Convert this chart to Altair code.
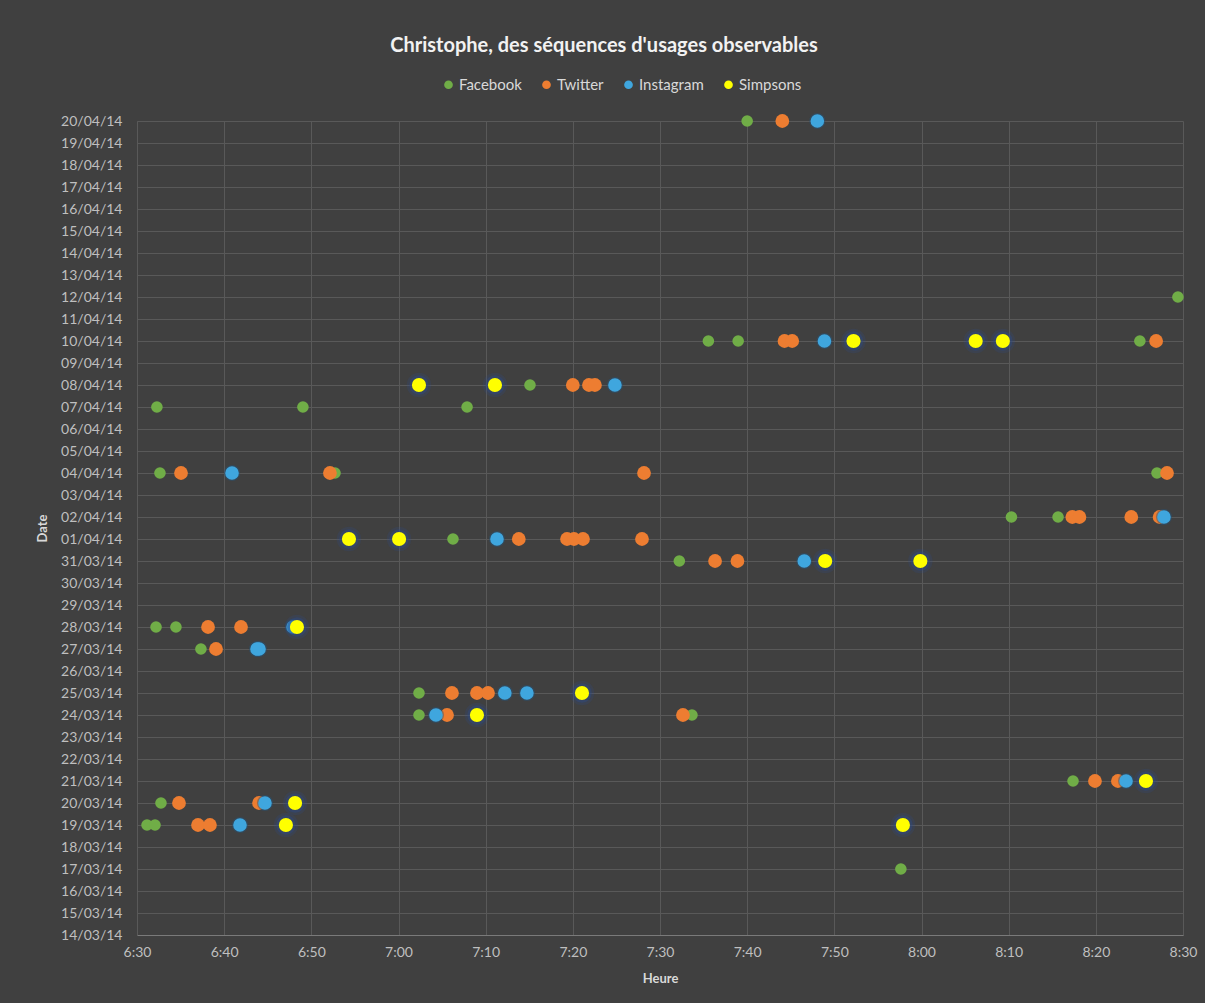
import altair as alt
import pandas as pd

# Series names and their colours
series = ["Facebook", "Twitter", "Instagram", "Simpsons"]
colors = ["#70ad47", "#ed7d31", "#3fa6de", "#ffff00"]

# Observed usage: day and time of each event, per application
facebook_dates = [
    "2014-04-20", "2014-04-12", "2014-04-10", "2014-04-10", "2014-04-10",
    "2014-04-08", "2014-04-07", "2014-04-07", "2014-04-07", "2014-04-04",
    "2014-04-04", "2014-04-04", "2014-04-02", "2014-04-02", "2014-04-01",
    "2014-03-31", "2014-03-28", "2014-03-28", "2014-03-27", "2014-03-25",
    "2014-03-24", "2014-03-24", "2014-03-21", "2014-03-20", "2014-03-19",
    "2014-03-19", "2014-03-17",
]
facebook_times = [
    "07:40:00", "08:29:25", "07:35:33", "07:38:58", "08:25:03",
    "07:15:05", "06:32:17", "06:49:02", "07:07:52", "06:32:38",
    "06:52:43", "08:27:01", "08:10:19", "08:15:40", "07:06:15",
    "07:32:13", "06:32:11", "06:34:28", "06:37:20", "07:02:21",
    "07:02:21", "07:33:40", "08:17:23", "06:32:45", "06:31:09",
    "06:32:04", "07:57:38",
]

twitter_dates = [
    "2014-04-20", "2014-04-10", "2014-04-10", "2014-04-10", "2014-04-08",
    "2014-04-08", "2014-04-08", "2014-04-04", "2014-04-04", "2014-04-04",
    "2014-04-04", "2014-04-02", "2014-04-02", "2014-04-02", "2014-04-02",
    "2014-04-01", "2014-04-01", "2014-04-01", "2014-04-01", "2014-04-01",
    "2014-03-31", "2014-03-31", "2014-03-28", "2014-03-28", "2014-03-27",
    "2014-03-25", "2014-03-25", "2014-03-25", "2014-03-24", "2014-03-24",
    "2014-03-21", "2014-03-21", "2014-03-20", "2014-03-20", "2014-03-19",
    "2014-03-19",
]
twitter_times = [
    "07:44:02", "07:44:17", "07:45:10", "08:26:55", "07:20:00",
    "07:21:51", "07:22:32", "06:35:03", "06:52:08", "07:28:10",
    "08:28:10", "08:17:18", "08:18:07", "08:24:04", "08:27:19",
    "07:13:48", "07:19:20", "07:20:08", "07:21:10", "07:27:56",
    "07:36:19", "07:38:53", "06:38:09", "06:41:56", "06:39:04",
    "07:06:08", "07:09:00", "07:10:16", "07:05:34", "07:32:38",
    "08:19:54", "08:22:32", "06:34:49", "06:44:00", "06:37:00",
    "06:38:22",
]

instagram_dates = [
    "2014-04-20", "2014-04-10", "2014-04-08", "2014-04-04", "2014-04-02",
    "2014-04-01", "2014-03-31", "2014-03-28", "2014-03-27", "2014-03-27",
    "2014-03-25", "2014-03-25", "2014-03-24", "2014-03-21", "2014-03-20",
    "2014-03-19",
]
instagram_times = [
    "07:48:03", "07:48:52", "07:24:50", "06:40:54", "08:27:49",
    "07:11:18", "07:46:33", "06:47:54", "06:43:46", "06:44:00",
    "07:12:12", "07:14:44", "07:04:18", "08:23:28", "06:44:41",
    "06:41:49",
]

simpsons_dates = [
    "2014-04-10", "2014-04-10", "2014-04-10", "2014-04-08", "2014-04-08",
    "2014-04-01", "2014-04-01", "2014-03-31", "2014-03-31", "2014-03-28",
    "2014-03-25", "2014-03-24", "2014-03-21", "2014-03-20", "2014-03-19",
    "2014-03-19",
]
simpsons_times = [
    "07:52:12", "08:06:13", "08:09:20", "07:02:21", "07:11:04",
    "06:54:19", "07:00:04", "07:48:57", "07:59:52", "06:48:21",
    "07:21:03", "07:09:00", "08:25:45", "06:48:08", "06:47:05",
    "07:57:52",
]

# Axis ranges: first and last day shown, first and last minute of the morning
FIRST_DAY = pd.Timestamp("2014-03-14")
LAST_DAY = pd.Timestamp("2014-04-20")
START_MIN = 6 * 60 + 30
END_MIN = 8 * 60 + 30


def to_minutes(t):
    h, m, s = (int(v) for v in t.split(":"))
    return h * 60 + m + s / 60.0


rows = []
for name, dates, times in [
    ("Facebook", facebook_dates, facebook_times),
    ("Twitter", twitter_dates, twitter_times),
    ("Instagram", instagram_dates, instagram_times),
    ("Simpsons", simpsons_dates, simpsons_times),
]:
    for d, t in zip(dates, times):
        rows.append({
            "serie": name,
            "jour": (pd.Timestamp(d) - FIRST_DAY).days,
            "heure": to_minutes(t),
        })
df = pd.DataFrame(rows)

n_days = (LAST_DAY - FIRST_DAY).days
day_ticks = list(range(0, n_days + 1))
time_ticks = list(range(START_MIN, END_MIN + 1, 10))

FONT = "Lato"
BG = "#404040"
GRID = "#595959"
LABEL = "#bfbfbf"

x_enc = alt.X(
    "heure:Q",
    title="Heure",
    scale=alt.Scale(domain=[START_MIN, END_MIN], nice=False, zero=False),
    axis=alt.Axis(
        values=time_ticks,
        labelExpr="floor(datum.value / 60) + ':' + (datum.value % 60 < 10 ? '0' : '') + (datum.value % 60)",
        labelPadding=10,
        titlePadding=13,
        labelFlush=False,
        domainColor="#7a7a7a",
    ),
)
y_enc = alt.Y(
    "jour:Q",
    title="Date",
    scale=alt.Scale(domain=[0, n_days], nice=False, zero=False),
    axis=alt.Axis(
        values=day_ticks,
        labelExpr="timeFormat(datetime(2014, 2, 14 + datum.value), '%d/%m/%y')",
        labelPadding=15,
        titlePadding=11,
        labelFlush=False,
        labelOverlap=False,
        domainColor=GRID,
    ),
)
color_enc = alt.Color(
    "serie:N",
    scale=alt.Scale(domain=series, range=colors),
    legend=alt.Legend(
        title=None,
        orient="none",
        direction="horizontal",
        legendX=304,
        legendY=-44,
        symbolType="circle",
        symbolSize=75,
        symbolOpacity=1,
        symbolStrokeWidth=0,
        labelFont=FONT,
        labelFontSize=15,
        labelColor="#d9d9d9",
        labelOffset=3,
        columnPadding=17,
    ),
)

base = alt.Chart(df).encode(x=x_enc, y=y_enc)


def serie(name):
    return base.transform_filter(alt.datum.serie == name)


layers = [
    serie("Facebook").mark_circle(size=135, opacity=1).encode(color=color_enc),
    serie("Twitter").mark_circle(size=190, opacity=1).encode(color=color_enc),
    serie("Instagram").mark_circle(size=260, opacity=0.45).encode(color=alt.value("#24557d")),
    serie("Instagram").mark_circle(size=185, opacity=1).encode(color=color_enc),
    serie("Simpsons").mark_circle(size=600, opacity=0.2).encode(color=alt.value("#2b4a8a")),
    serie("Simpsons").mark_circle(size=380, opacity=0.4).encode(color=alt.value("#2b4a8a")),
    serie("Simpsons").mark_circle(size=200, opacity=1).encode(color=color_enc),
]

chart = (
    alt.layer(*layers)
    .properties(
        width=1046,
        height=814,
        autosize=alt.AutoSizeParams(type="none"),
        padding={"left": 137, "top": 121, "right": 22, "bottom": 68},
        background=BG,
        title=alt.TitleParams(
            text="Christophe, des séquences d'usages observables",
            anchor="middle",
            dx=-56,
            offset=21,
            font=FONT,
            fontSize=20,
            fontWeight="bold",
            color="#f2f2f2",
        ),
    )
    .configure_view(stroke=None)
    .configure_axis(
        grid=True,
        gridColor=GRID,
        gridWidth=1,
        ticks=False,
        labelFont=FONT,
        labelFontSize=14,
        labelColor=LABEL,
        titleFont=FONT,
        titleFontSize=13,
        titleFontWeight="bold",
        titleColor="#d9d9d9",
    )
)

chart.save("out.html", embed_options={"renderer": "svg", "actions": False})
